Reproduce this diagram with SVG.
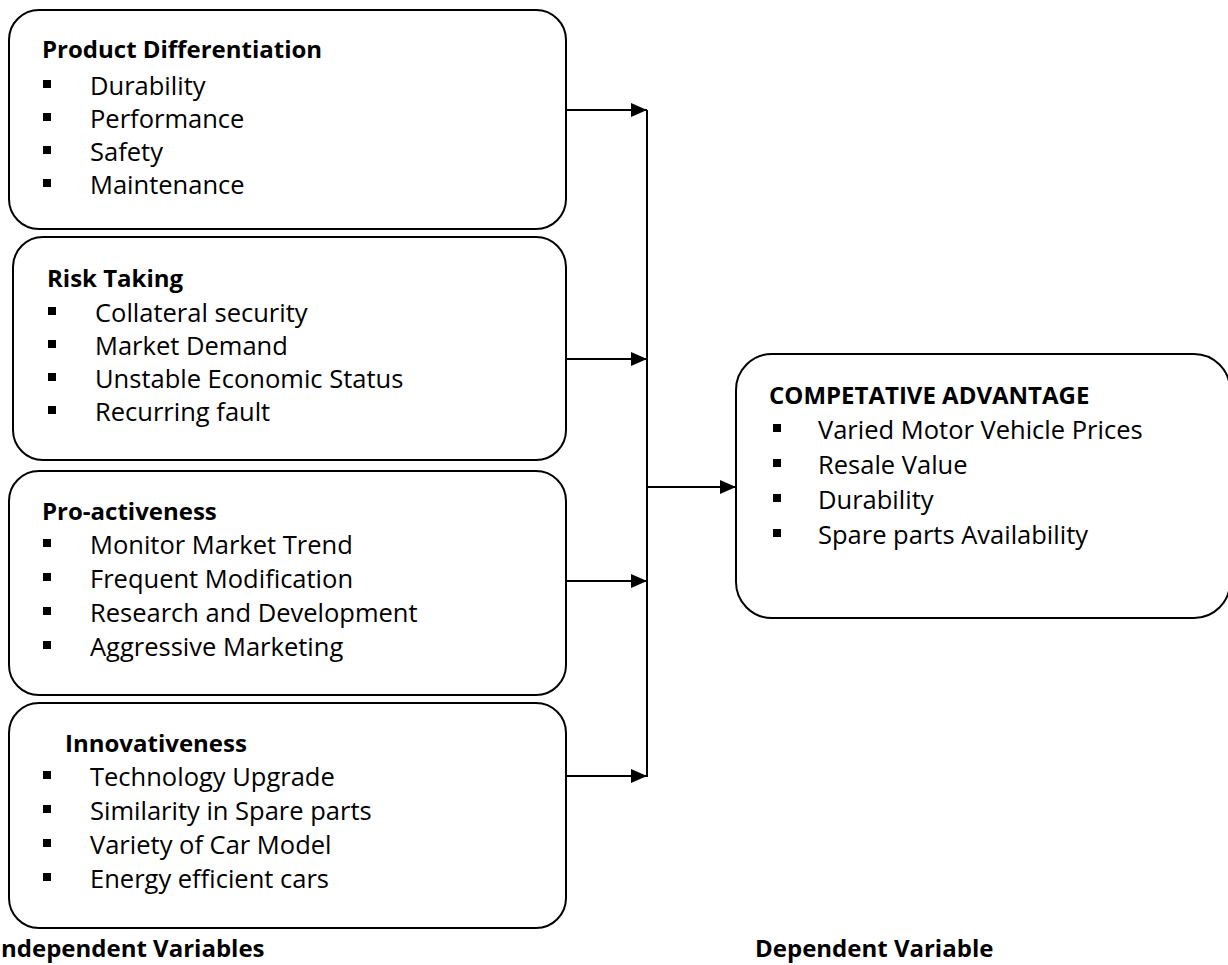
<svg xmlns="http://www.w3.org/2000/svg" width="1228" height="965" viewBox="0 0 1228 965">
<defs>
<style>
.box{fill:#fff;stroke:#000;stroke-width:2}
.t{font-family:"Open Sans","Liberation Sans",sans-serif;font-size:25.5px;fill:#000}
.h{font-family:"Open Sans","Liberation Sans",sans-serif;font-size:24px;font-weight:bold;fill:#000}
.b{fill:#000}
.c{stroke:#000;stroke-width:2;fill:none}
</style>
<marker id="arr" viewBox="0 0 16 14" refX="16" refY="7" markerWidth="16" markerHeight="14" markerUnits="userSpaceOnUse" orient="auto">
<path d="M0,0 L16,7 L0,14 z" fill="#000"/>
</marker>
</defs>

<g id="node-product-differentiation">
<rect class="box" x="9" y="10" width="557" height="219" rx="30"/>
<text class="h" x="42" y="58">Product Differentiation</text>
<rect class="b" x="43" y="80" width="8" height="8"/><text class="t" x="90" y="95">Durability</text>
<rect class="b" x="43" y="113" width="8" height="8"/><text class="t" x="90" y="128">Performance</text>
<rect class="b" x="43" y="146" width="8" height="8"/><text class="t" x="90" y="161">Safety</text>
<rect class="b" x="43" y="179" width="8" height="8"/><text class="t" x="90" y="194">Maintenance</text>
</g>

<g id="node-risk-taking">
<rect class="box" x="13" y="237" width="553" height="223" rx="30"/>
<text class="h" x="47" y="287">Risk Taking</text>
<rect class="b" x="48" y="307" width="8" height="8"/><text class="t" x="95" y="322">Collateral security</text>
<rect class="b" x="48" y="340" width="8" height="8"/><text class="t" x="95" y="355">Market Demand</text>
<rect class="b" x="48" y="373" width="8" height="8"/><text class="t" x="95" y="388">Unstable Economic Status</text>
<rect class="b" x="48" y="406" width="8" height="8"/><text class="t" x="95" y="421">Recurring fault</text>
</g>

<g id="node-pro-activeness">
<rect class="box" x="9" y="471" width="557" height="224" rx="30"/>
<text class="h" x="42" y="520">Pro-activeness</text>
<rect class="b" x="43" y="539" width="8" height="8"/><text class="t" x="90" y="554">Monitor Market Trend</text>
<rect class="b" x="43" y="573" width="8" height="8"/><text class="t" x="90" y="588">Frequent Modification</text>
<rect class="b" x="43" y="607" width="8" height="8"/><text class="t" x="90" y="622">Research and Development</text>
<rect class="b" x="43" y="641" width="8" height="8"/><text class="t" x="90" y="656">Aggressive Marketing</text>
</g>

<g id="node-innovativeness">
<rect class="box" x="9" y="703" width="557" height="225" rx="30"/>
<text class="h" x="65" y="752">Innovativeness</text>
<rect class="b" x="43" y="771" width="8" height="8"/><text class="t" x="90" y="786">Technology Upgrade</text>
<rect class="b" x="43" y="805" width="8" height="8"/><text class="t" x="90" y="820">Similarity in Spare parts</text>
<rect class="b" x="43" y="839" width="8" height="8"/><text class="t" x="90" y="854">Variety of Car Model</text>
<rect class="b" x="43" y="873" width="8" height="8"/><text class="t" x="90" y="888">Energy efficient cars</text>
</g>

<g id="node-competative-advantage">
<rect class="box" x="736" y="354" width="494" height="264" rx="36"/>
<text class="h" x="769" y="404">COMPETATIVE ADVANTAGE</text>
<rect class="b" x="773" y="424" width="8" height="8"/><text class="t" x="818" y="439">Varied Motor Vehicle Prices</text>
<rect class="b" x="773" y="459" width="8" height="8"/><text class="t" x="818" y="474">Resale Value</text>
<rect class="b" x="773" y="494" width="8" height="8"/><text class="t" x="818" y="509">Durability</text>
<rect class="b" x="773" y="529" width="8" height="8"/><text class="t" x="818" y="544">Spare parts Availability</text>
</g>

<g id="connectors">
<line class="c" x1="647" y1="110" x2="647" y2="777"/>
<line class="c" x1="566" y1="110" x2="647" y2="110" marker-end="url(#arr)"/>
<line class="c" x1="566" y1="359" x2="647" y2="359" marker-end="url(#arr)"/>
<line class="c" x1="566" y1="581" x2="647" y2="581" marker-end="url(#arr)"/>
<line class="c" x1="566" y1="776" x2="647" y2="776" marker-end="url(#arr)"/>
<line class="c" x1="647" y1="487" x2="736" y2="487" marker-end="url(#arr)"/>
</g>

<g id="labels">
<text class="h" x="1" y="957">ndependent Variables</text>
<text class="h" x="755" y="957">Dependent Variable</text>
</g>
</svg>
